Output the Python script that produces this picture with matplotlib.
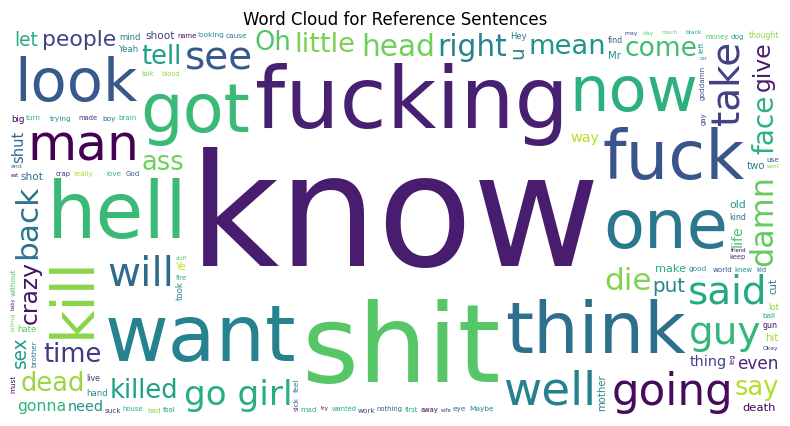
import numpy as np
import matplotlib
matplotlib.use("Agg")
import matplotlib.pyplot as plt

# words and their relative weight (approximate font height in canvas pixels)
words = ["know", "shit", "fucking", "want", "hell", "think", "one", "got", "fuck", "now",
         "man", "look", "kill", "well", "going", "will", "said", "take", "see", "guy",
         "damn", "go girl", "back", "die", "head", "right", "face", "little", "mean", "killed",
         "time", "come", "dead", "ass", "say", "tell", "Oh", "crazy", "give", "people",
         "even", "put", "way", "thing", "gonna", "make", "sex", "let", "need", "u",
         "two", "life", "death", "shoot", "shot", "thought", "shut", "Yeah", "good", "hand",
         "really", "love", "hate", "mind", "world", "God", "old", "Hey", "brain", "keep",
         "kind", "find", "blood", "made", "nothing", "knew", "crap", "wanted", "Ye", "Mr",
         "gun", "live", "hit", "away", "cut", "work", "eye", "mad", "boy", "mother",
         "Maybe", "cause", "trying", "big", "without", "looking", "talk", "fool", "fire", "house",
         "money", "name", "much", "first", "kid", "getting", "fucked", "around", "something", "goddamn",
         "black", "took", "turn", "day", "end", "use", "may", "Okay", "lot", "bloody",
         "bad", "brother", "father", "dog", "woman", "leave", "believe", "better", "wife", "friend",
         "mouth", "sick", "left", "told", "killing", "place", "always", "still", "suck", "son",
         "must", "stop", "never", "might", "feel", "fuckin'", "someone", "talking", "ball", "bitch",
         "stupid", "care", "hear", "sorry", "try", "neck", "long", "real", "eat", "enough",
         "new", "show", "stuff", "probably", "right now", "everything", "gay", "night", "help", "murder",
         "body", "blow", "baby", "car", "anything", "bullshit", "came", "mom", "dad", "beat",
         "called", "used", "saw", "another", "wrong", "done", "went", "family", "listen", "leg"]
weights = [200, 165, 110, 100, 100, 92, 86, 86, 86, 80,
           76, 76, 74, 60, 56, 52, 50, 50, 50, 50,
           48, 44, 40, 40, 38, 38, 36, 35, 35, 33,
           33, 34, 33, 33, 33, 33, 33, 30, 30, 28,
           30, 30, 30, 30, 28, 28, 28, 28, 30, 30,
           25, 25, 24, 22, 22, 22, 22, 18, 18, 18,
           15, 15, 15, 15, 15, 15, 14, 15, 15, 14,
           14, 14, 14, 14, 14, 14, 14, 14, 13, 13,
           14, 14, 13, 14, 13, 13, 13, 13, 13, 13,
           13, 13, 13, 13, 13, 13, 12, 12, 12, 12,
           12, 12, 12, 12, 12, 11, 11, 11, 11, 11,
           11, 11, 11, 11, 11, 11, 11, 11, 11, 11,
           11, 11, 11, 11, 11, 11, 11, 11, 11, 11,
           11, 11, 11, 11, 11, 11, 11, 11, 11, 11,
           11, 11, 11, 11, 11, 11, 10, 10, 11, 11,
           10, 10, 10, 10, 10, 10, 10, 10, 9, 9,
           9, 9, 9, 9, 9, 9, 9, 9, 9, 9,
           9, 9, 9, 9, 9, 9, 9, 9, 9, 9,
           9, 9, 9, 9, 9, 9, 9, 9, 9, 9]
vertical = {"kill", "take", "damn", "crazy", "face", "life", "give", "back", "sex", "shut",
            "u", "without", "stupid", "feel", "mother", "cut", "goddamn", "took", "killing",
            "brother", "must", "sick", "care", "left", "leg", "family", "baby", "gay", "anything"}

W, H = 770, 385
SCALE = 0.78
fig = plt.figure(figsize=(7.9, 4.27), dpi=100)
ax = fig.add_axes([10 / 790, 12 / 427, W / 790, H / 427])
ax.set_xlim(0, W)
ax.set_ylim(0, H)
ax.axis("off")
fig.suptitle("Word Cloud for Reference Sentences", y=0.975, fontsize=12)

renderer = fig.canvas.get_renderer()
grid = np.zeros((H, W), dtype=bool)
cmap = plt.get_cmap("viridis")
rng = np.random.default_rng(3)   # only for colour / spiral start angle


def fits(x0, y0, w, h):
    if x0 < 0 or y0 < 0 or x0 + w > W or y0 + h > H:
        return False
    return not grid[y0:y0 + h, x0:x0 + w].any()


cx, cy = W / 2, H / 2
for word, px in zip(words, weights):
    rot = 90 if word in vertical else 0
    color = cmap(rng.uniform(0.0, 0.92))
    start = rng.uniform(0, 2 * np.pi)
    size = px * SCALE
    placed = False
    while not placed:
        t = ax.text(0, 0, word, fontsize=size * 0.72, rotation=rot, ha="center",
                    va="center", color=color, family="DejaVu Sans")
        bb = t.get_window_extent(renderer)
        w, h = int(np.ceil(bb.width)) + 1, int(np.ceil(bb.height)) + 1
        for i in range(12000):
            r = 0.025 * i
            a = start + 0.1 * i
            x = cx + 2.0 * r * np.cos(a)
            y = cy + r * np.sin(a)
            x0, y0 = int(x - w / 2), int(y - h / 2)
            if fits(x0, y0, w, h):
                grid[y0:y0 + h, x0:x0 + w] = True
                t.set_position((x0 + w / 2, y0 + h / 2))
                placed = True
                break
        if not placed:
            t.remove()
            size *= 0.85
            if size < 5:
                break

fig.savefig("out.png", dpi=100)
